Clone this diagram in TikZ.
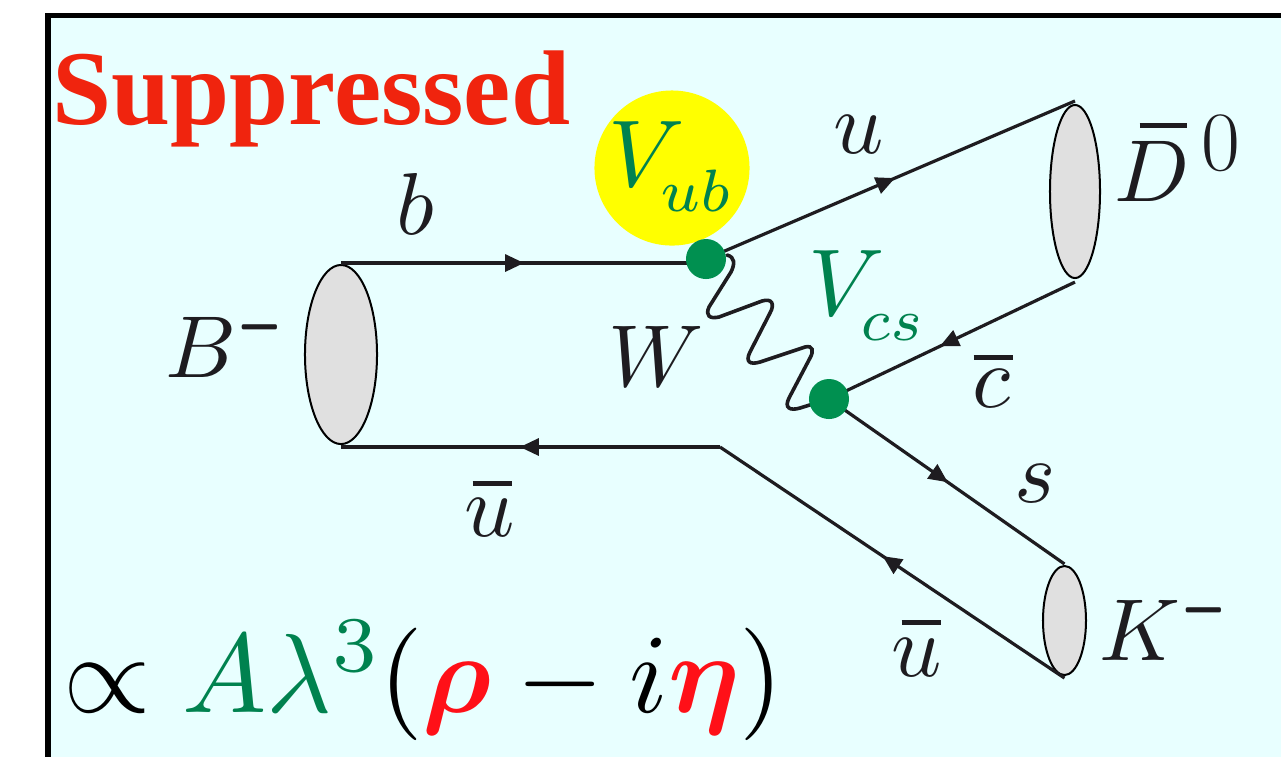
\documentclass[tikz,border=0pt]{standalone}
\usepackage{fix-cm}
\usepackage{amsmath}
\usepackage{graphicx}
\usepackage{fontspec}
\usepackage{tikz}
\usetikzlibrary{shapes.geometric,arrows.meta,decorations.markings}
\newfontfamily\titlefont{Liberation Serif}
\DeclareFontShape{OML}{cmm}{m}{it}{<-16>cmmi10 <16-23.5>cmmi7 <23.5->cmmi10}{}
\DeclareFontShape{OMS}{cmsy}{m}{n}{<-16>cmsy10 <16-23.5>cmsy7 <23.5->cmsy10}{}
\DeclareFontShape{OT1}{cmr}{m}{n}{<-16>cmr10 <16-23.5>cmr7 <23.5->cmr10}{}
\definecolor{panelcyan}{HTML}{E8FFFF}
\definecolor{vertexgreen}{HTML}{009050}
\definecolor{ckmgreen}{HTML}{00824F}
\definecolor{titlered}{HTML}{F0240E}
\definecolor{etared}{HTML}{FF1018}
\definecolor{quarkblack}{HTML}{1E1C20}
\definecolor{mesongray}{HTML}{E0E0E0}
\definecolor{blobyellow}{HTML}{FFFF00}
% antiquark bar: shift, height above baseline, length, letter
\newcommand{\barred}[4]{\rlap{\kern#1\rule[#2]{#3}{0.05cm}}#4}
\newcommand{\heavyminus}{\lower0.085cm\hbox{\scalebox{0.85}[1.7]{$\scriptstyle-$}}}
\newcommand{\lowsub}[1]{\kern-0.04cm\lower0.11cm\hbox{\scalebox{0.9}{$\scriptstyle #1$}}}

\begin{document}
\begin{tikzpicture}[
    x=0.01cm, y=-0.01cm,
    meson/.style={draw=black, ellipse, fill=mesongray, line width=0.02cm, inner sep=0pt},
    vertex/.style={circle, fill=vertexgreen, minimum size=0.40cm, inner sep=0pt},
    quark/.style={draw=quarkblack, line width=0.032cm},
    fermion/.style={quark, postaction={decorate, decoration={markings,
        mark=at position #1 with {\arrow{Triangle[length=0.19cm, width=0.17cm]}}}}},
    label/.style={anchor=base west, inner sep=0pt, text=quarkblack, font=\fontsize{25}{30}\selectfont},
    ckm/.style={label, text=ckmgreen, font=\fontsize{27}{32}\selectfont}
]

\clip (0,0) rectangle (1281,756);
\fill[panelcyan] (48,15) rectangle (1290,765);
\draw[black, line width=0.05cm] (48,765) -- (48,15) -- (1290,15);

% --- blob behind V_ub ---
\node[circle, fill=blobyellow, minimum size=1.55cm, inner sep=0pt] (blob) at (672,168) {};

% --- nodes ---
\node[meson, minimum width=0.72cm, minimum height=1.79cm] (bm) at (341,354.5) {};
\node[meson, minimum width=0.50cm, minimum height=1.73cm] (d0) at (1075,191.5) {};
\node[meson, minimum width=0.43cm, minimum height=1.09cm] (km) at (1064.5,620.5) {};

\coordinate (kink) at (720,447);
\coordinate (bin) at (341,263);
\coordinate (bout) at (341,447);
\coordinate (vubin) at (700,263);
\coordinate (vub) at (706,259);
\coordinate (vcs) at (829,399);

% --- arrows ---
\draw[fermion=0.51] (bin) -- (vubin);
\draw[fermion=0.512] (vub) -- ([yshift=0.03cm]d0.north);
\draw[fermion=0.55] ([yshift=-0.03cm]d0.south) -- (vcs);
\draw[fermion=0.505] (vcs) -- ([yshift=0.01cm]km.north);
\draw[fermion=0.528] ([yshift=-0.02cm]km.south) -- (kink);
\draw[fermion=0.528, line join=round] (kink) -- (bout);

% --- W boson ---
\draw[quark, line width=0.036cm, line cap=round] (727,255) .. controls (735,257) and (735,264) .. (731,272)
    -- (709,307) .. controls (705,316) and (710,319) .. (719,317)
    -- (762,301) .. controls (772,298) and (775,304) .. (770,313)
    -- (750,352) .. controls (745,362) and (750,365) .. (760,362)
    -- (805,347) .. controls (813,345) and (814,351) .. (810,358)
    -- (789,398) .. controls (784,408) and (790,411) .. (800,408) -- (vcs);

\node[vertex] (vubdot) at (vub) {};
\node[vertex] (vcsdot) at (vcs) {};

% --- labels ---
\node[anchor=base west, inner sep=0pt, text=titlered, font=\titlefont\bfseries\fontsize{30.2}{36}\selectfont] (title) at (52,124) {Suppressed};
\node[label] (lb) at (396,234) {$b$};
\node[label] (lbm) at (165,377) {$B^{\heavyminus}$};
\node[label] (lw) at (608,386) {$W$};
\node[label] (lu) at (833,153) {$u$};
\node[label] (ld) at (1114,201) {$\barred{0.25cm}{0.73cm}{0.47cm}{D}$\kern0.12cm\raisebox{0.31cm}{\fontsize{24}{28}\selectfont 0}};
\node[label] (lc) at (972,407) {$\barred{0.01cm}{0.47cm}{0.39cm}{c}$};
\node[label] (ls) at (1014,502) {$s$};
\node[label] (lub) at (464,536) {$\barred{0.08cm}{0.50cm}{0.39cm}{u}$};
\node[label] (lur) at (891,676) {$\barred{0.10cm}{0.51cm}{0.39cm}{u}$};
\node[label] (lk) at (1099,660) {$K^{\heavyminus}$};
\node[ckm] (lvub) at (608,186) {$V_{\lowsub{ub}}$};
\node[ckm] (lvcs) at (808,315) {$V_{\lowsub{cs}}$};

\node[label, text=black, font=\fontsize{32}{38}\selectfont] (amp) at (63,712)
    {$\propto\textcolor{ckmgreen}{A\lambda^{3}}(\textcolor{etared}{\boldsymbol{\rho}}-i\textcolor{etared}{\boldsymbol{\eta}})$};

\end{tikzpicture}
\end{document}
